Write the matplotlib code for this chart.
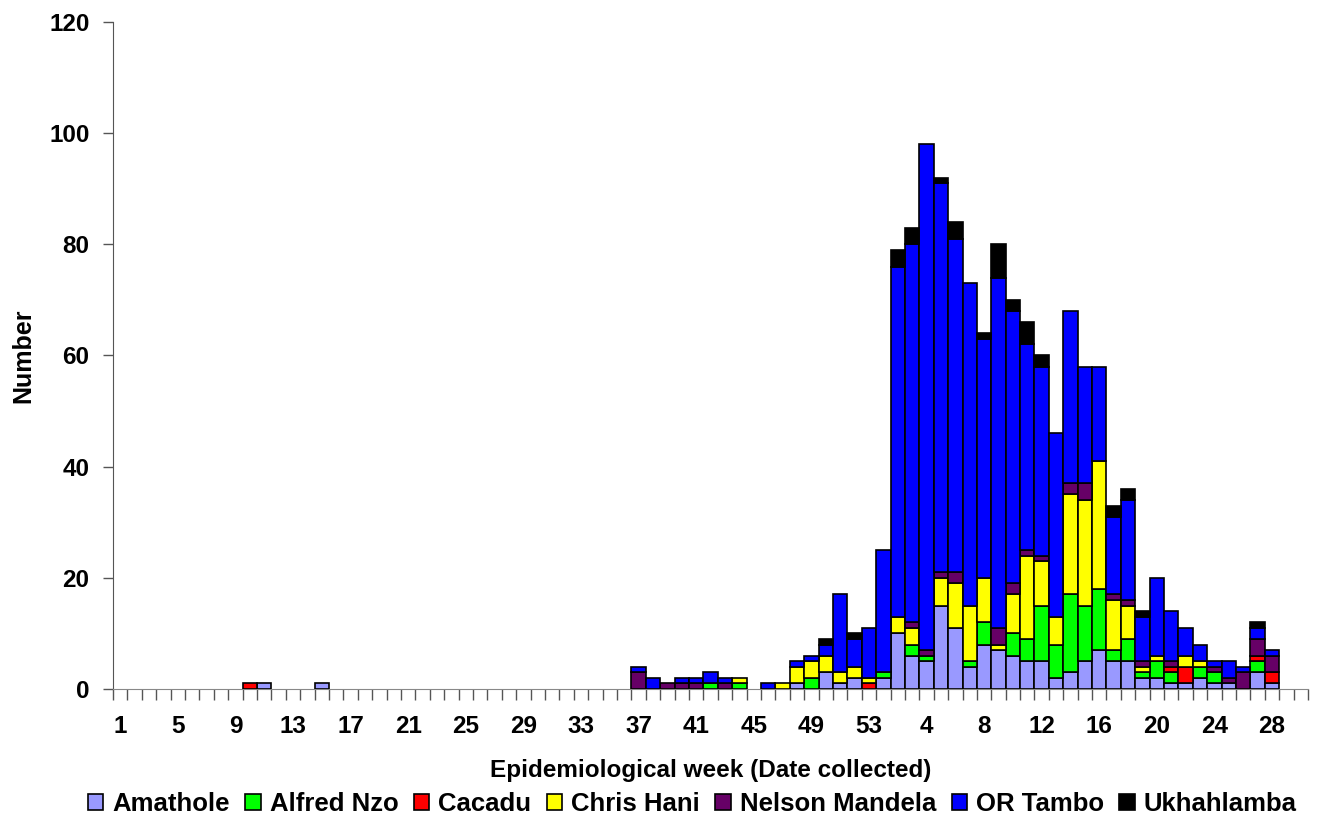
import matplotlib
matplotlib.use('Agg')
from matplotlib import pyplot as plt
from matplotlib.patches import Patch
import numpy as np

# epidemiological weeks: year 1 weeks 1-53, then year 2 weeks 1-30
weeks = list(range(1, 54)) + list(range(1, 31))

districts = ['Amathole', 'Alfred Nzo', 'Cacadu', 'Chris Hani',
             'Nelson Mandela', 'OR Tambo', 'Ukhahlamba']
colors = ['#9999FF', '#00FF00', '#FF0000', '#FFFF00',
          '#660066', '#0000FF', '#000000']

amathole = [0, 0, 0, 0, 0, 0, 0, 0, 0, 0,
            1, 0, 0, 0, 1, 0, 0, 0, 0, 0,
            0, 0, 0, 0, 0, 0, 0, 0, 0, 0,
            0, 0, 0, 0, 0, 0, 0, 0, 0, 0,
            0, 0, 0, 0, 0, 0, 0, 1, 0, 3,
            1, 2, 0,
            2, 10, 6, 5, 15, 11, 4, 8, 7, 6,
            5, 5, 2, 3, 5, 7, 5, 5, 2, 2,
            1, 1, 2, 1, 1, 0, 3, 1, 0, 0]
alfred_nzo = [0, 0, 0, 0, 0, 0, 0, 0, 0, 0,
              0, 0, 0, 0, 0, 0, 0, 0, 0, 0,
              0, 0, 0, 0, 0, 0, 0, 0, 0, 0,
              0, 0, 0, 0, 0, 0, 0, 0, 0, 0,
              0, 1, 0, 1, 0, 0, 0, 0, 2, 0,
              0, 0, 0,
              1, 0, 2, 1, 0, 0, 1, 4, 0, 4,
              4, 10, 6, 14, 10, 11, 2, 4, 1, 3,
              2, 0, 2, 2, 0, 0, 2, 0, 0, 0]
cacadu = [0, 0, 0, 0, 0, 0, 0, 0, 0, 1,
          0, 0, 0, 0, 0, 0, 0, 0, 0, 0,
          0, 0, 0, 0, 0, 0, 0, 0, 0, 0,
          0, 0, 0, 0, 0, 0, 0, 0, 0, 0,
          0, 0, 0, 0, 0, 0, 0, 0, 0, 0,
          0, 0, 1,
          0, 0, 0, 0, 0, 0, 0, 0, 0, 0,
          0, 0, 0, 0, 0, 0, 0, 0, 0, 0,
          1, 3, 0, 0, 0, 0, 1, 2, 0, 0]
chris_hani = [0, 0, 0, 0, 0, 0, 0, 0, 0, 0,
              0, 0, 0, 0, 0, 0, 0, 0, 0, 0,
              0, 0, 0, 0, 0, 0, 0, 0, 0, 0,
              0, 0, 0, 0, 0, 0, 0, 0, 0, 0,
              0, 0, 0, 1, 0, 0, 1, 3, 3, 3,
              2, 2, 1,
              0, 3, 3, 0, 5, 8, 10, 8, 1, 7,
              15, 8, 5, 18, 19, 23, 9, 6, 1, 1,
              0, 2, 1, 0, 0, 0, 0, 0, 0, 0]
nelson_mandela = [0, 0, 0, 0, 0, 0, 0, 0, 0, 0,
                  0, 0, 0, 0, 0, 0, 0, 0, 0, 0,
                  0, 0, 0, 0, 0, 0, 0, 0, 0, 0,
                  0, 0, 0, 0, 0, 0, 3, 0, 1, 1,
                  1, 0, 1, 0, 0, 0, 0, 0, 0, 0,
                  0, 0, 0,
                  0, 0, 1, 1, 1, 2, 0, 0, 3, 2,
                  1, 1, 0, 2, 3, 0, 1, 1, 1, 0,
                  1, 0, 0, 1, 1, 3, 3, 3, 0, 0]
or_tambo = [0, 0, 0, 0, 0, 0, 0, 0, 0, 0,
            0, 0, 0, 0, 0, 0, 0, 0, 0, 0,
            0, 0, 0, 0, 0, 0, 0, 0, 0, 0,
            0, 0, 0, 0, 0, 0, 1, 2, 0, 1,
            1, 2, 1, 0, 0, 1, 0, 1, 1, 2,
            14, 5, 9,
            22, 63, 68, 91, 70, 60, 58, 43, 63, 49,
            37, 34, 33, 31, 21, 17, 14, 18, 8, 14,
            9, 5, 3, 1, 3, 1, 2, 1, 0, 0]
ukhahlamba = [0, 0, 0, 0, 0, 0, 0, 0, 0, 0,
              0, 0, 0, 0, 0, 0, 0, 0, 0, 0,
              0, 0, 0, 0, 0, 0, 0, 0, 0, 0,
              0, 0, 0, 0, 0, 0, 0, 0, 0, 0,
              0, 0, 0, 0, 0, 0, 0, 0, 0, 1,
              0, 1, 0,
              0, 3, 3, 0, 1, 3, 0, 1, 6, 2,
              4, 2, 0, 0, 0, 0, 2, 2, 1, 0,
              0, 0, 0, 0, 0, 0, 1, 0, 0, 0]

series = [amathole, alfred_nzo, cacadu, chris_hani,
          nelson_mandela, or_tambo, ukhahlamba]

plt.rcParams['font.family'] = ['Liberation Sans', 'DejaVu Sans']
plt.rcParams['font.weight'] = 'bold'

fig = plt.figure(figsize=(13.19, 8.21), dpi=100)
ax = fig.add_axes([0.0857, 0.1608, 0.906, 0.8124])

x = np.arange(len(weeks))
bottom = np.zeros(len(weeks))
for vals, col in zip(series, colors):
    vals = np.array(vals, dtype=float)
    m = vals > 0
    ax.bar(x[m], vals[m], width=1.0, bottom=bottom[m], color=col,
           edgecolor='black', linewidth=1.2, zorder=3)
    bottom += vals

ax.set_xlim(-0.5, len(weeks) - 0.5)
ax.set_ylim(0, 120)
ax.set_yticks(np.arange(0, 121, 20))

lab_pos = x[::4]
ax.set_xticks(lab_pos)
ax.set_xticklabels([str(weeks[i]) for i in lab_pos])
ax.set_xticks(np.arange(-0.5, len(weeks), 1.0), minor=True)
ax.tick_params(axis='x', which='major', length=0, pad=19, labelsize=17.5)
ax.tick_params(axis='x', which='minor', length=8, width=1, color='#555555')
ax.tick_params(axis='y', length=7, width=1, color='#555555', pad=10, labelsize=17.5)

for s in ['top', 'right']:
    ax.spines[s].set_visible(False)
ax.spines['left'].set_color('#555555')
ax.spines['bottom'].set_color('#888888')

ax.set_xlabel('Epidemiological week (Date collected)', fontsize=17.5, fontweight='bold', labelpad=15)
ax.set_ylabel('Number', fontsize=18, fontweight='bold', labelpad=10)

handles = [Patch(facecolor=c, edgecolor='black', linewidth=1.2) for c in colors]
fig.legend(handles, districts, loc='lower center', ncol=7, frameon=False,
           bbox_to_anchor=(0.525, -0.022), handlelength=0.6,
           handleheight=0.6, handletextpad=0.35, columnspacing=0.6,
           prop={'weight': 'bold', 'size': 18.5})

fig.savefig('out.png', dpi=100)
